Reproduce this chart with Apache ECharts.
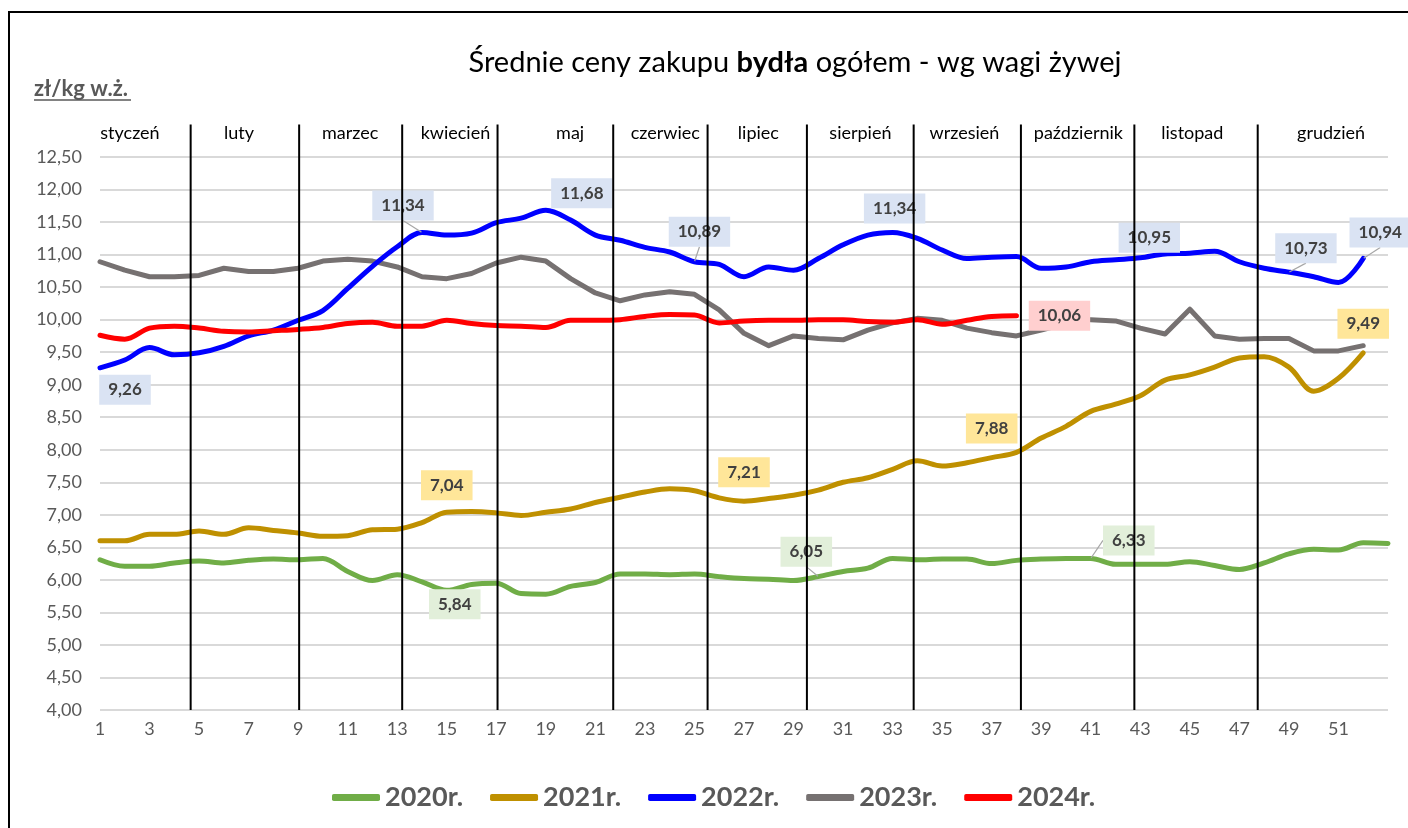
<!DOCTYPE html>
<html lang="pl">
<head>
<meta charset="utf-8">
<title>Średnie ceny zakupu bydła</title>
<script src="https://cdn.jsdelivr.net/npm/echarts/dist/echarts.min.js"></script>
<style>
  html, body { margin: 0; padding: 0; background: #fff; }
  #chart { width: 1408px; height: 828px; }
</style>
</head>
<body>
<div id="chart"></div>
<script>
// tygodnie roku
const weeks = Array.from({ length: 53 }, (_, i) => i + 1);

// ceny zł/kg w.ż. wg tygodni
const price2020 = [6.31, 6.21, 6.21, 6.26, 6.29, 6.26, 6.30, 6.32, 6.31, 6.33,
  6.13, 5.99, 6.08, 5.97, 5.84, 5.93, 5.95, 5.79, 5.78, 5.90,
  5.96, 6.09, 6.09, 6.08, 6.09, 6.05, 6.02, 6.01, 5.99, 6.05,
  6.13, 6.18, 6.33, 6.31, 6.32, 6.32, 6.25, 6.30, 6.32, 6.33,
  6.33, 6.24, 6.24, 6.24, 6.28, 6.22, 6.16, 6.26, 6.40, 6.47,
  6.46, 6.57, 6.56];
const price2021 = [6.60, 6.60, 6.70, 6.70, 6.75, 6.70, 6.80, 6.76, 6.72, 6.67,
  6.68, 6.77, 6.78, 6.88, 7.04, 7.05, 7.03, 6.99, 7.04, 7.09,
  7.19, 7.27, 7.35, 7.40, 7.37, 7.26, 7.21, 7.25, 7.30, 7.38,
  7.50, 7.57, 7.70, 7.83, 7.75, 7.80, 7.88, 7.96, 8.18, 8.36,
  8.59, 8.70, 8.83, 9.07, 9.15, 9.27, 9.41, 9.43, 9.27, 8.90,
  9.10, 9.49];
const price2022 = [9.26, 9.38, 9.57, 9.46, 9.49, 9.59, 9.75, 9.84, 9.99, 10.14,
  10.48, 10.82, 11.12, 11.34, 11.30, 11.33, 11.49, 11.56, 11.68, 11.53,
  11.30, 11.22, 11.11, 11.04, 10.89, 10.85, 10.66, 10.81, 10.76, 10.94,
  11.15, 11.30, 11.34, 11.25, 11.07, 10.94, 10.96, 10.97, 10.79, 10.81,
  10.89, 10.92, 10.95, 11.01, 11.02, 11.05, 10.89, 10.79, 10.73, 10.66,
  10.57, 10.94];
const price2023 = [10.89, 10.76, 10.66, 10.66, 10.68, 10.79, 10.74, 10.74, 10.79, 10.90,
  10.93, 10.90, 10.81, 10.66, 10.63, 10.71, 10.87, 10.96, 10.90, 10.63,
  10.41, 10.29, 10.38, 10.43, 10.39, 10.15, 9.79, 9.60, 9.75, 9.71,
  9.69, 9.84, 9.95, 10.02, 9.99, 9.87, 9.80, 9.75, 9.84, 9.94,
  10.00, 9.98, 9.87, 9.78, 10.16, 9.75, 9.70, 9.71, 9.71, 9.52,
  9.52, 9.60];
const price2024 = [9.76, 9.70, 9.87, 9.90, 9.87, 9.82, 9.81, 9.83, 9.85, 9.88,
  9.94, 9.96, 9.90, 9.90, 9.99, 9.94, 9.91, 9.90, 9.88, 9.99,
  9.99, 10.00, 10.05, 10.08, 10.07, 9.95, 9.98, 9.99, 9.99, 10.00,
  10.00, 9.97, 9.96, 10.00, 9.93, 9.99, 10.05, 10.06];

// miesiące: nazwy, środki podpisów i granice (w tygodniach)
const monthNames = ['styczeń', 'luty', 'marzec', 'kwiecień', 'maj', 'czerwiec',
  'lipiec', 'sierpień', 'wrzesień', 'październik', 'listopad', 'grudzień'];
const monthCenters = [2.21, 6.61, 11.1, 15.35, 19.98, 23.82, 27.58, 31.7, 35.9, 40.5, 45.1, 50.7];
const monthBorders = [4.66, 9.04, 13.2, 17.05, 21.72, 25.53, 29.54, 33.85, 38.18, 42.76, 47.74];

// podpisy danych: tydzień -> [dx, dy, linia odniesienia]
const labelSpots2020 = { 15: [8, 14, false], 30: [-12, -25, true], 41: [38, -18, true] };
const labelSpots2021 = { 15: [0, -27, false], 27: [0, -29, false], 37: [0, -29, false], 52: [0, -29, false] };
const labelSpots2022 = { 1: [25, 22, false], 14: [-19, -27, true], 19: [36, -17, false], 25: [5, -30, true],
  33: [2, -24, false], 43: [9, -20, false], 49: [17, -24, true], 52: [17, -26, true] };
const labelSpots2023 = {};
const labelSpots2024 = { 38: [43, 0, false] };

const FONT = 'Lato, "Open Sans", "Noto Sans", sans-serif';
const fmt = v => v.toFixed(2).replace('.', ',');

function lineSeries(name, values, color, labelBg, spots, z, smooth) {
  return {
    name: name,
    type: 'line',
    z: z,
    smooth: smooth,
    showSymbol: true,
    symbol: 'circle',
    symbolSize: 1,
    itemStyle: { color: color },
    lineStyle: { color: color, width: 5, cap: 'round', join: 'round' },
    emphasis: { disabled: true },
    data: values.map((v, i) => {
      const item = { value: [weeks[i], v] };
      const spot = spots[weeks[i]];
      if (spot) {
        item.label = { show: true };
        if (spot[2]) item.labelLine = { show: true };
      }
      return item;
    }),
    label: {
      show: false,
      position: 'inside',
      formatter: p => fmt(p.value[1]),
      backgroundColor: labelBg,
      color: '#404040',
      fontFamily: FONT,
      fontWeight: 'bold',
      fontSize: 17,
      padding: [7, 9, 6, 9]
    },
    labelLine: { show: false, lineStyle: { color: '#a6a6a6', width: 1.2 } },
    labelLayout: p => {
      const s = spots[weeks[p.dataIndex]];
      return s ? { dx: s[0], dy: s[1] } : {};
    }
  };
}

const chart = echarts.init(document.getElementById('chart'));

const option = {
  animation: false,
  backgroundColor: '#fff',
  title: {
    text: 'Średnie ceny zakupu {b|bydła} ogółem - wg wagi żywej',
    left: 790,
    top: 43,
    textAlign: 'center',
    textStyle: {
      fontFamily: FONT, fontSize: 29, fontWeight: 'normal', color: '#000',
      rich: { b: { fontFamily: FONT, fontSize: 29, fontWeight: 'bold', color: '#000' } }
    }
  },
  graphic: [
    {
      type: 'rect', silent: true, z: -10,
      shape: { x: 9, y: 12, width: 1460, height: 900 },
      style: { fill: 'none', stroke: '#000', lineWidth: 2 }
    },
    {
      type: 'text', silent: true, left: 34, top: 78,
      style: { text: 'zł/kg w.ż.', fill: '#595959', font: 'bold 22px ' + FONT }
    },
    {
      type: 'line', silent: true,
      shape: { x1: 34, y1: 100, x2: 131, y2: 100 },
      style: { stroke: '#595959', lineWidth: 1.5 }
    }
  ],
  legend: {
    data: ['2020r.', '2021r.', '2022r.', '2023r.', '2024r.'],
    left: 327,
    top: 779,
    icon: 'roundRect',
    itemWidth: 48,
    itemHeight: 7,
    itemGap: 27,
    selectedMode: false,
    textStyle: { fontFamily: FONT, fontSize: 27, fontWeight: 'bold', color: '#595959' }
  },
  grid: { left: 100, right: 20, top: 157, bottom: 118 },
  xAxis: {
    type: 'value',
    min: 1,
    max: 53,
    interval: 2,
    axisLine: { show: false },
    axisTick: { show: false },
    splitLine: { show: false },
    axisLabel: {
      color: '#595959', fontFamily: FONT, fontSize: 18, margin: 10,
      formatter: v => (v >= 53 ? '' : String(v))
    }
  },
  yAxis: {
    type: 'value',
    min: 4,
    max: 12.5,
    interval: 0.5,
    axisLine: { show: false },
    axisTick: { show: false },
    splitLine: { lineStyle: { color: '#d9d9d9', width: 2 } },
    axisLabel: {
      color: '#595959', fontFamily: FONT, fontSize: 18, margin: 18,
      formatter: v => fmt(v)
    }
  },
  series: [
    lineSeries('2020r.', price2020, '#70ad47', '#e2efda', labelSpots2020, 2, 0.35),
    lineSeries('2021r.', price2021, '#bf9000', '#ffe699', labelSpots2021, 2, 0.35),
    lineSeries('2022r.', price2022, '#0000ff', '#dae3f3', labelSpots2022, 4, 0.35),
    lineSeries('2023r.', price2023, '#767171', '#e7e6e6', labelSpots2023, 3, false),
    lineSeries('2024r.', price2024, '#ff0000', '#ffcfcf', labelSpots2024, 5, 0.35),
    {
      name: 'granice',
      type: 'custom',
      z: 20,
      silent: true,
      clip: false,
      data: monthBorders.map(w => [w, 13.0, 4.0]),
      encode: { x: 0, y: [1, 2] },
      renderItem: (params, api) => {
        const top = api.coord([api.value(0), api.value(1)]);
        const bottom = api.coord([api.value(0), api.value(2)]);
        return {
          type: 'line',
          shape: { x1: top[0], y1: top[1], x2: bottom[0], y2: bottom[1] },
          style: { stroke: '#000', lineWidth: 2 }
        };
      }
    },
    {
      name: 'miesiące',
      type: 'custom',
      z: 20,
      silent: true,
      clip: false,
      data: monthCenters.map(w => [w, 12.87]),
      encode: { x: 0, y: 1 },
      renderItem: (params, api) => {
        const p = api.coord([api.value(0), api.value(1)]);
        return {
          type: 'text',
          x: p[0],
          y: p[1],
          style: {
            text: monthNames[params.dataIndex],
            fill: '#000',
            font: '18px ' + FONT,
            align: 'center',
            verticalAlign: 'middle'
          }
        };
      }
    }
  ]
};

chart.setOption(option);
</script>
</body>
</html>
